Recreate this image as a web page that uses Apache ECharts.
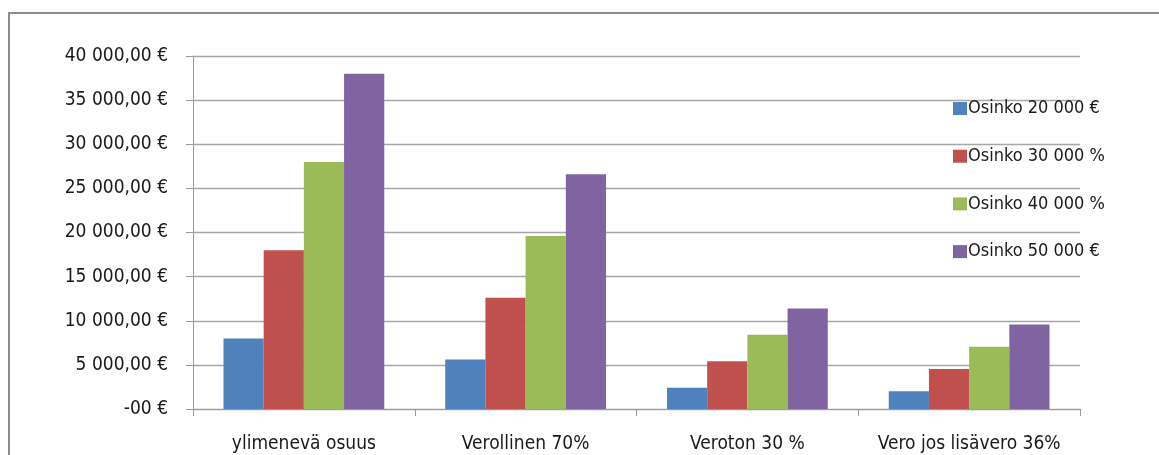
<!DOCTYPE html>
<html>
<head>
<meta charset="utf-8">
<script src="https://cdn.jsdelivr.net/npm/echarts@6/dist/echarts.min.js"></script>
<style>
  html, body { margin: 0; padding: 0; background: #ffffff; overflow: hidden; }
  #frame { position: absolute; left: 8px; top: 12px; width: 1200px; height: 500px;
           border: 2px solid #8c8c8c; box-sizing: border-box; }
  #chart { position: absolute; left: 0; top: 0; width: 1159px; height: 455px; }
</style>
</head>
<body>
<div id="frame"></div>
<div id="chart"></div>
<script>
// Categories and the four dividend scenarios (euros)
const categories = ['ylimenevä osuus', 'Verollinen 70%', 'Veroton 30 %', 'Vero jos lisävero 36%'];
const seriesNames = ['Osinko 20 000 €', 'Osinko 30 000 %', 'Osinko 40 000 %', 'Osinko 50 000 €'];
const osinko20000 = [8000, 5600, 2400, 2016];
const osinko30000 = [18000, 12600, 5400, 4536];
const osinko40000 = [28000, 19600, 8400, 7056];
const osinko50000 = [38000, 26600, 11400, 9576];
const yTickLabels = ['-00 €', '5 000,00 €', '10 000,00 €', '15 000,00 €', '20 000,00 €',
                     '25 000,00 €', '30 000,00 €', '35 000,00 €', '40 000,00 €'];

const colors = ['#4f81bd', '#c0504d', '#9bbb59', '#8064a2'];
const seriesData = [osinko20000, osinko30000, osinko40000, osinko50000];
const FONT = '"Liberation Sans Narrow", "DejaVu Sans Condensed", sans-serif';

const chart = echarts.init(document.getElementById('chart'), null, { renderer: 'canvas' });
chart.setOption({
  animation: false,
  color: colors,
  textStyle: { fontFamily: FONT },
  grid: { left: 193, right: 79, top: 56, bottom: 46, containLabel: false },
  legend: {
    orient: 'vertical',
    left: 953,
    top: 98,
    padding: 0,
    icon: 'rect',
    itemWidth: 14,
    itemHeight: 13,
    itemGap: 26.7,
    textStyle: { fontFamily: FONT, fontSize: 18, color: '#1a1a1a', lineHeight: 21, padding: [0, 0, 0, -4] },
    data: seriesNames
  },
  xAxis: {
    type: 'category',
    data: categories,
    boundaryGap: true,
    axisLine: { lineStyle: { color: '#9a9a9a', width: 1 } },
    axisTick: { show: true, length: 7, lineStyle: { color: '#9a9a9a' } },
    axisLabel: { fontFamily: FONT, fontSize: 19, color: '#1a1a1a', margin: 26, interval: 0 }
  },
  yAxis: {
    type: 'value',
    min: 0,
    max: 40000,
    interval: 5000,
    axisLine: { show: true, lineStyle: { color: '#9a9a9a', width: 1 } },
    axisTick: { show: true, length: 7, lineStyle: { color: '#9a9a9a' } },
    splitLine: { lineStyle: { color: '#a6a6a6', width: 1.3 } },
    axisLabel: {
      fontFamily: FONT, fontSize: 19, color: '#1a1a1a', margin: 25,
      formatter: v => yTickLabels[Math.round(v / 5000)]
    }
  },
  series: seriesNames.map((name, i) => ({
    name: name,
    type: 'bar',
    data: seriesData[i],
    barGap: '0%',
    barCategoryGap: '27.5%',
    itemStyle: { color: colors[i] }
  }))
});
</script>
</body>
</html>
